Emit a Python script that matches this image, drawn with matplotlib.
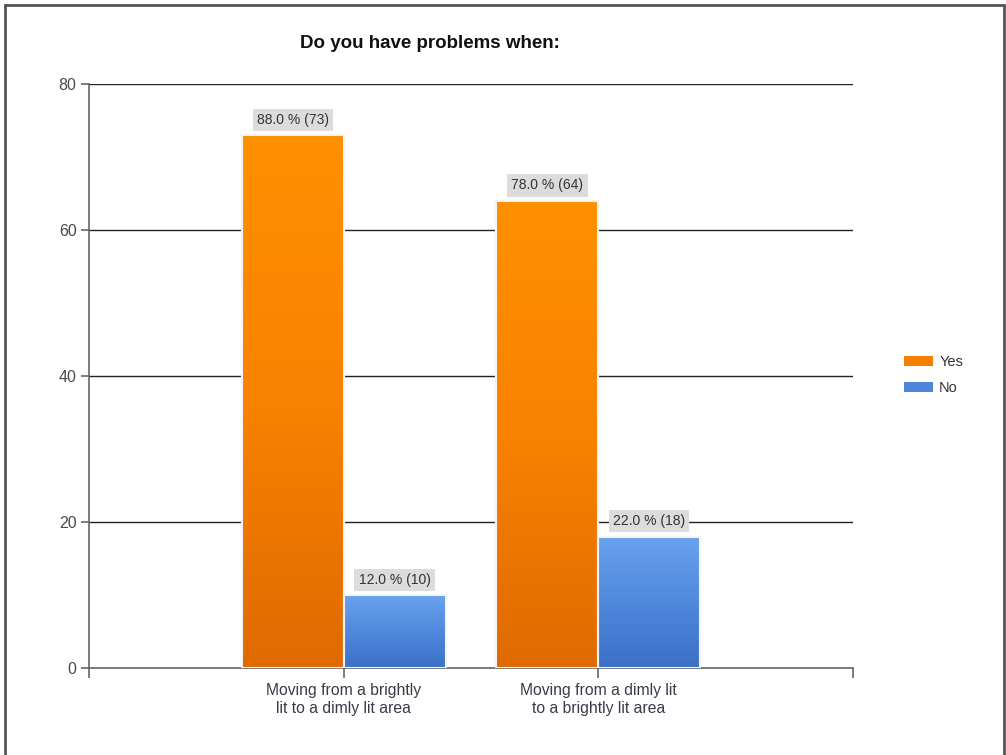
import numpy as np
import matplotlib
matplotlib.use("Agg")
import matplotlib.pyplot as plt
from matplotlib.colors import LinearSegmentedColormap
from matplotlib.patches import Rectangle

categories = ["Moving from a brightly\nlit to a dimly lit area",
              "Moving from a dimly lit\nto a brightly lit area"]
series_names = ["Yes", "No"]
yes_counts = [73, 64]
no_counts = [10, 18]
yes_pct = [88.0, 78.0]
no_pct = [12.0, 22.0]
y_ticks = [0, 20, 40, 60, 80]

plt.rcParams["font.family"] = ["Liberation Sans", "DejaVu Sans"]

W, H = 1006, 755
fig = plt.figure(figsize=(W / 100, H / 100), dpi=100)
fig.patch.set_facecolor("white")

# outer frame of the chart image
frame = Rectangle((4.5 / W, -0.01), (1003.5 - 4.5) / W, (H - 4.5) / H + 0.01,
                  transform=fig.transFigure, fill=False,
                  edgecolor="#555555", linewidth=2.0, zorder=0)
fig.add_artist(frame)

ax_left, ax_right = 89 / W, 853 / W
ax_bottom, ax_top = (H - 668) / H, (H - 84) / H
ax = fig.add_axes([ax_left, ax_bottom, ax_right - ax_left, ax_top - ax_bottom])

for spine in ["top", "right"]:
    ax.spines[spine].set_visible(False)
for spine in ["left", "bottom"]:
    ax.spines[spine].set_color("#666666")
    ax.spines[spine].set_linewidth(1.2)

ax.set_yticks(y_ticks)
ax.set_yticklabels([str(v) for v in y_ticks], fontsize=11.5, color="#4a4a4a")
ax.tick_params(axis="y", length=6, color="#666666", width=1.2, pad=3)
ax.yaxis.grid(True, color="#222222", linewidth=1.0)
ax.set_axisbelow(True)

ax.set_xticks([0, 1, 2, 3])
ax.set_xticklabels([""] + categories + [""],
                   fontsize=11.3, color="#3a3a4a", linespacing=1.25)
ax.tick_params(axis="x", length=7, color="#666666", width=1.2, pad=4)

orange_cmap = LinearSegmentedColormap.from_list("orange", ["#DF6A00", "#F98200", "#FF9000"])
blue_cmap = LinearSegmentedColormap.from_list("blue", ["#3C70C8", "#5088DC", "#6AA2EE"])

bar_w = 0.4
x = np.arange(1, len(categories) + 1)


def gradient_bar(xc, height, cmap):
    x0, x1 = xc - bar_w / 2, xc + bar_w / 2
    grad = np.linspace(0, 1, 256).reshape(-1, 1)
    ax.imshow(grad, cmap=cmap, origin="lower", aspect="auto",
              extent=(x0, x1, 0, height), zorder=2, interpolation="bilinear")
    ax.add_patch(Rectangle((x0, 0), bar_w, height, fill=False,
                           edgecolor="#F4F4F4", linewidth=1.5, zorder=3))


def value_label(xc, height, pct, count):
    ax.annotate(f"{pct:.1f} % ({count})", xy=(xc, height), xytext=(0, 6),
                textcoords="offset points", ha="center", va="bottom",
                fontsize=10, color="#333333", zorder=5,
                bbox=dict(boxstyle="square,pad=0.3", facecolor="#DCDCDC",
                          edgecolor="none"))


for i in range(len(categories)):
    xo = x[i] - bar_w / 2
    xb = x[i] + bar_w / 2
    gradient_bar(xo, yes_counts[i], orange_cmap)
    gradient_bar(xb, no_counts[i], blue_cmap)
    value_label(xo, yes_counts[i], yes_pct[i], yes_counts[i])
    value_label(xb, no_counts[i], no_pct[i], no_counts[i])

ax.set_xlim(0, 3)
ax.set_ylim(0, 80)

fig.text(430 / W, (H - 44) / H, "Do you have problems when:", ha="center",
         va="center", fontsize=13.5, fontweight="bold", color="#111111")

# legend
leg_handles = [Rectangle((0, 0), 1, 1, facecolor="#F57F00", edgecolor="none"),
               Rectangle((0, 0), 1, 1, facecolor="#4F86DA", edgecolor="none")]
fig.legend(leg_handles, series_names, loc="center left",
           bbox_to_anchor=(891 / W, (H - 375) / H), frameon=False,
           fontsize=10.5, handlelength=2.0, handleheight=0.7,
           handletextpad=0.4, labelspacing=0.8, labelcolor="#333333")

fig.savefig("out.png", dpi=100, facecolor="white")
